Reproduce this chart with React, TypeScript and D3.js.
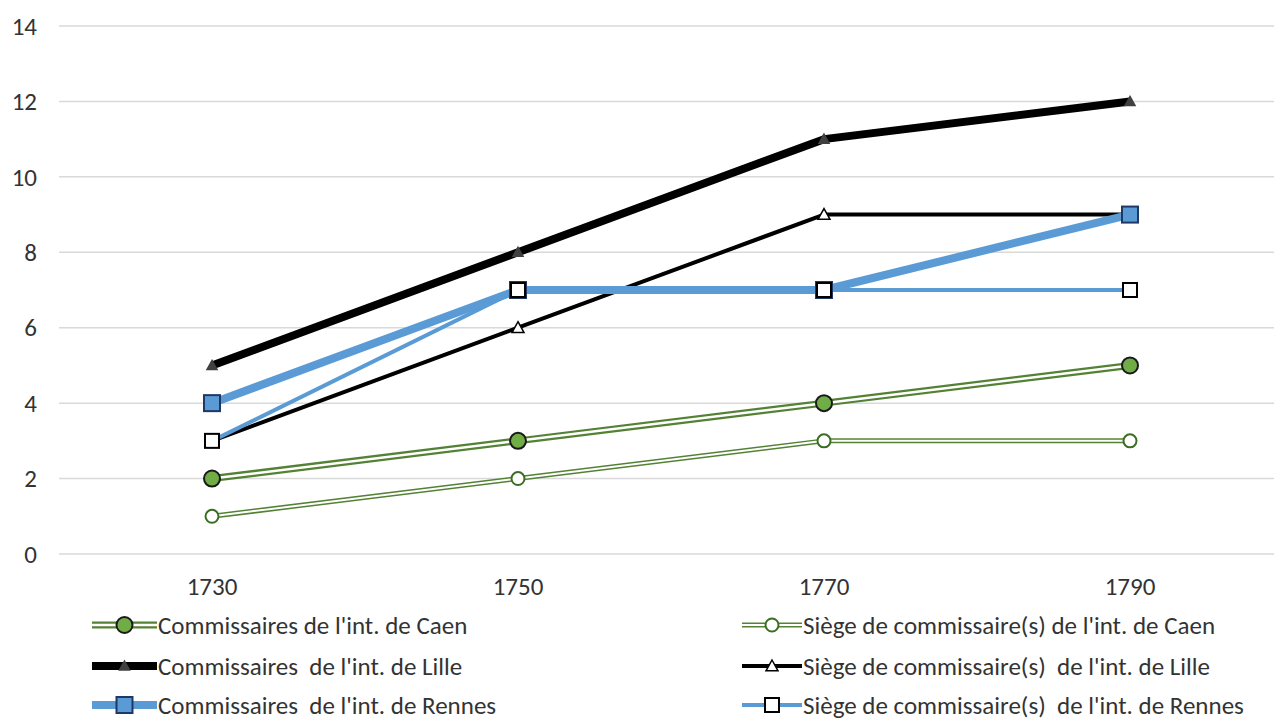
import React from "react";
import * as d3 from "d3";

const years = ["1730", "1750", "1770", "1790"];
const caenComm = [2, 3, 4, 5];
const caenSiege = [1, 2, 3, 3];
const lilleComm = [5, 8, 11, 12];
const lilleSiege = [3, 6, 9, 9];
const rennesComm = [4, 7, 7, 9];
const rennesSiege = [3, 7, 7, 7];
const yTicks = [0, 2, 4, 6, 8, 10, 12, 14];

const names = [
  "Commissaires de l'int. de Caen",
  "Siège de commissaire(s) de l'int. de Caen",
  "Commissaires  de l'int. de Lille",
  "Siège de commissaire(s)  de l'int. de Lille",
  "Commissaires  de l'int. de Rennes",
  "Siège de commissaire(s)  de l'int. de Rennes",
];

type S = {
  name: string;
  values: number[];
  kind: "double" | "single";
  color: string;
  width: number;
  inner?: number;
  marker: "circle" | "triangle" | "square";
  mFill: string;
  mStroke: string;
  mSize: number;
};

const series: S[] = [
  { name: names[0], values: caenComm, kind: "double", color: "#548235", width: 7, inner: 2.5, marker: "circle", mFill: "#70AD47", mStroke: "#1a1a1a", mSize: 8 },
  { name: names[1], values: caenSiege, kind: "double", color: "#548235", width: 5, inner: 2, marker: "circle", mFill: "#ffffff", mStroke: "#3b6e22", mSize: 6.5 },
  { name: names[2], values: lilleComm, kind: "single", color: "#000000", width: 8, marker: "triangle", mFill: "#404040", mStroke: "#404040", mSize: 5 },
  { name: names[3], values: lilleSiege, kind: "single", color: "#000000", width: 4, marker: "triangle", mFill: "#ffffff", mStroke: "#000000", mSize: 6 },
  { name: names[4], values: rennesComm, kind: "single", color: "#5B9BD5", width: 8, marker: "square", mFill: "#5B9BD5", mStroke: "#1F3864", mSize: 8 },
  { name: names[5], values: rennesSiege, kind: "single", color: "#5B9BD5", width: 4, marker: "square", mFill: "#ffffff", mStroke: "#000000", mSize: 7 },
];

const W = 1274;
const H = 720;
const FONT = "Carlito, Calibri, 'Open Sans', sans-serif";
const TXT = "#333333";

function Marker({ s, x, y }: { s: S; x: number; y: number }) {
  const r = s.mSize;
  if (s.marker === "circle") {
    return <circle cx={x} cy={y} r={r} fill={s.mFill} stroke={s.mStroke} strokeWidth={2} />;
  }
  if (s.marker === "square") {
    return <rect x={x - r} y={y - r} width={2 * r} height={2 * r} fill={s.mFill} stroke={s.mStroke} strokeWidth={2} />;
  }
  const p = `M${x},${y - r}L${x + r},${y + r * 0.8}L${x - r},${y + r * 0.8}Z`;
  return <path d={p} fill={s.mFill} stroke={s.mStroke} strokeWidth={1.5} />;
}

function SeriesLine({ s, d }: { s: S; d: string }) {
  if (s.kind === "double") {
    return (
      <g>
        <path d={d} fill="none" stroke={s.color} strokeWidth={s.width} strokeLinejoin="round" />
        <path d={d} fill="none" stroke="#ffffff" strokeWidth={s.inner} strokeLinejoin="round" />
      </g>
    );
  }
  return <path d={d} fill="none" stroke={s.color} strokeWidth={s.width} strokeLinejoin="round" />;
}

export default function App() {
  const x = d3.scaleBand<string>().domain(years).range([59, 1283]);
  const y = d3.scaleLinear().domain([0, 14]).range([554, 26]);
  const cx = (yr: string) => (x(yr) as number) + x.bandwidth() / 2;
  const line = d3
    .line<number>()
    .x((_, i) => cx(years[i]))
    .y((v) => y(v));

  const legendPos = [
    { lx: 92, ty: 625 },
    { lx: 742, ty: 625 },
    { lx: 92, ty: 666 },
    { lx: 742, ty: 666 },
    { lx: 92, ty: 705 },
    { lx: 742, ty: 705 },
  ];

  return (
    <svg width={W} height={H} style={{ position: "absolute", left: 0, top: 0, background: "#fff" }} fontFamily={FONT}>
      <rect width={W} height={H} fill="#ffffff" />
      {yTicks.map((t) => (
        <g key={t}>
          <line x1={59} x2={W} y1={y(t)} y2={y(t)} stroke="#d9d9d9" strokeWidth={1.5} />
          <text x={37} y={y(t)} dy="0.35em" textAnchor="end" fontSize={25} fill={TXT}>
            {t}
          </text>
        </g>
      ))}
      {years.map((yr) => (
        <text key={yr} x={cx(yr)} y={586} dy="0.35em" textAnchor="middle" fontSize={25} fill={TXT}>
          {yr}
        </text>
      ))}
      {series.map((s) => (
        <SeriesLine key={s.name} s={s} d={line(s.values) as string} />
      ))}
      {series.map((s) => (
        <g key={s.name + "m"}>
          {s.values.map((v, i) => (
            <Marker key={i} s={s} x={cx(years[i])} y={y(v)} />
          ))}
        </g>
      ))}
      {series.map((s, i) => {
        const p = legendPos[i];
        const lw = i % 2 === 0 ? 65 : 60;
        const dl = `M${p.lx},${p.ty}L${p.lx + lw},${p.ty}`;
        return (
          <g key={s.name + "l"}>
            <SeriesLine s={s} d={dl} />
            <Marker s={s} x={p.lx + lw / 2} y={p.ty} />
            <text x={p.lx + lw + 1} y={p.ty} dy="0.35em" fontSize={25} fill={TXT} style={{ whiteSpace: "pre" }}>
              {s.name}
            </text>
          </g>
        );
      })}
    </svg>
  );
}
